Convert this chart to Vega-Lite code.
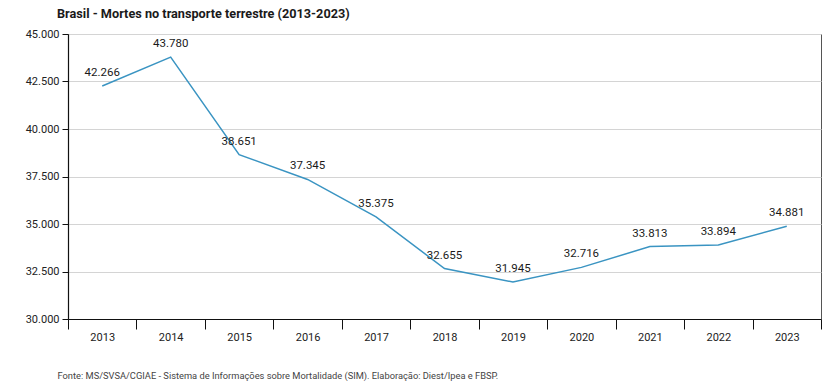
{
  "$schema": "https://vega.github.io/schema/vega-lite/v6.json",
  "width": 753,
  "height": 285,
  "autosize": {"type": "none"},
  "padding": {"left": 68, "top": 34, "right": 17, "bottom": 71},
  "background": "white",
  "title": {
    "text": "Brasil - Mortes no transporte terrestre (2013-2023)",
    "anchor": "start",
    "frame": "group",
    "dx": -11,
    "offset": 7,
    "font": "Roboto",
    "fontSize": 12.7,
    "fontWeight": "bold",
    "color": "#1a1a1a"
  },
  "config": {
    "locale": {"number": {"decimal": ",", "thousands": ".", "grouping": [3], "currency": ["R$", ""]}},
    "view": {"stroke": "#555555", "strokeWidth": 1},
    "font": "Roboto",
    "axis": {"labelFont": "Roboto", "labelFontSize": 11, "labelColor": "#222222", "domainColor": "#111111", "tickColor": "#111111"}
  },
  "data": {
    "values": [
      {"ano": "2013", "mortes": 42266},
      {"ano": "2014", "mortes": 43780},
      {"ano": "2015", "mortes": 38651},
      {"ano": "2016", "mortes": 37345},
      {"ano": "2017", "mortes": 35375},
      {"ano": "2018", "mortes": 32655},
      {"ano": "2019", "mortes": 31945},
      {"ano": "2020", "mortes": 32716},
      {"ano": "2021", "mortes": 33813},
      {"ano": "2022", "mortes": 33894},
      {"ano": "2023", "mortes": 34881}
    ]
  },
  "encoding": {
    "x": {
      "field": "ano",
      "type": "ordinal",
      "scale": {"paddingInner": 0, "paddingOuter": 0},
      "axis": {
        "title": "Fonte: MS/SVSA/CGIAE - Sistema de Informações sobre Mortalidade (SIM). Elaboração: Diest/Ipea e FBSP.",
        "titleAnchor": "start",
        "titleAlign": "left",
        "titleX": -11,
        "titleY": 59,
        "titleBaseline": "alphabetic",
        "titleFont": "Roboto",
        "titleFontSize": 9.3,
        "titleFontWeight": "normal",
        "titleColor": "#444444",
        "labelAngle": 0,
        "tickBand": "extent",
        "tickSize": 10,
        "labelPadding": 2,
        "domainWidth": 1.2,
        "grid": false
      }
    },
    "y": {
      "field": "mortes",
      "type": "quantitative",
      "scale": {"domain": [30000, 45000], "nice": false, "zero": false},
      "axis": {
        "title": null,
        "values": [30000, 32500, 35000, 37500, 40000, 42500, 45000],
        "format": ",d",
        "tickSize": 6,
        "labelPadding": 3,
        "domainWidth": 1.2,
        "grid": true,
        "gridColor": "#d4d4d4",
        "gridWidth": 1
      }
    }
  },
  "layer": [
    {
      "mark": {"type": "line", "color": "#3a94c2", "strokeWidth": 1.5}
    },
    {
      "mark": {"type": "text", "baseline": "bottom", "dy": -8, "font": "Roboto", "fontSize": 11.5, "color": "#1a1a1a"},
      "encoding": {
        "text": {"field": "mortes", "type": "quantitative", "format": ",d"}
      }
    }
  ]
}
